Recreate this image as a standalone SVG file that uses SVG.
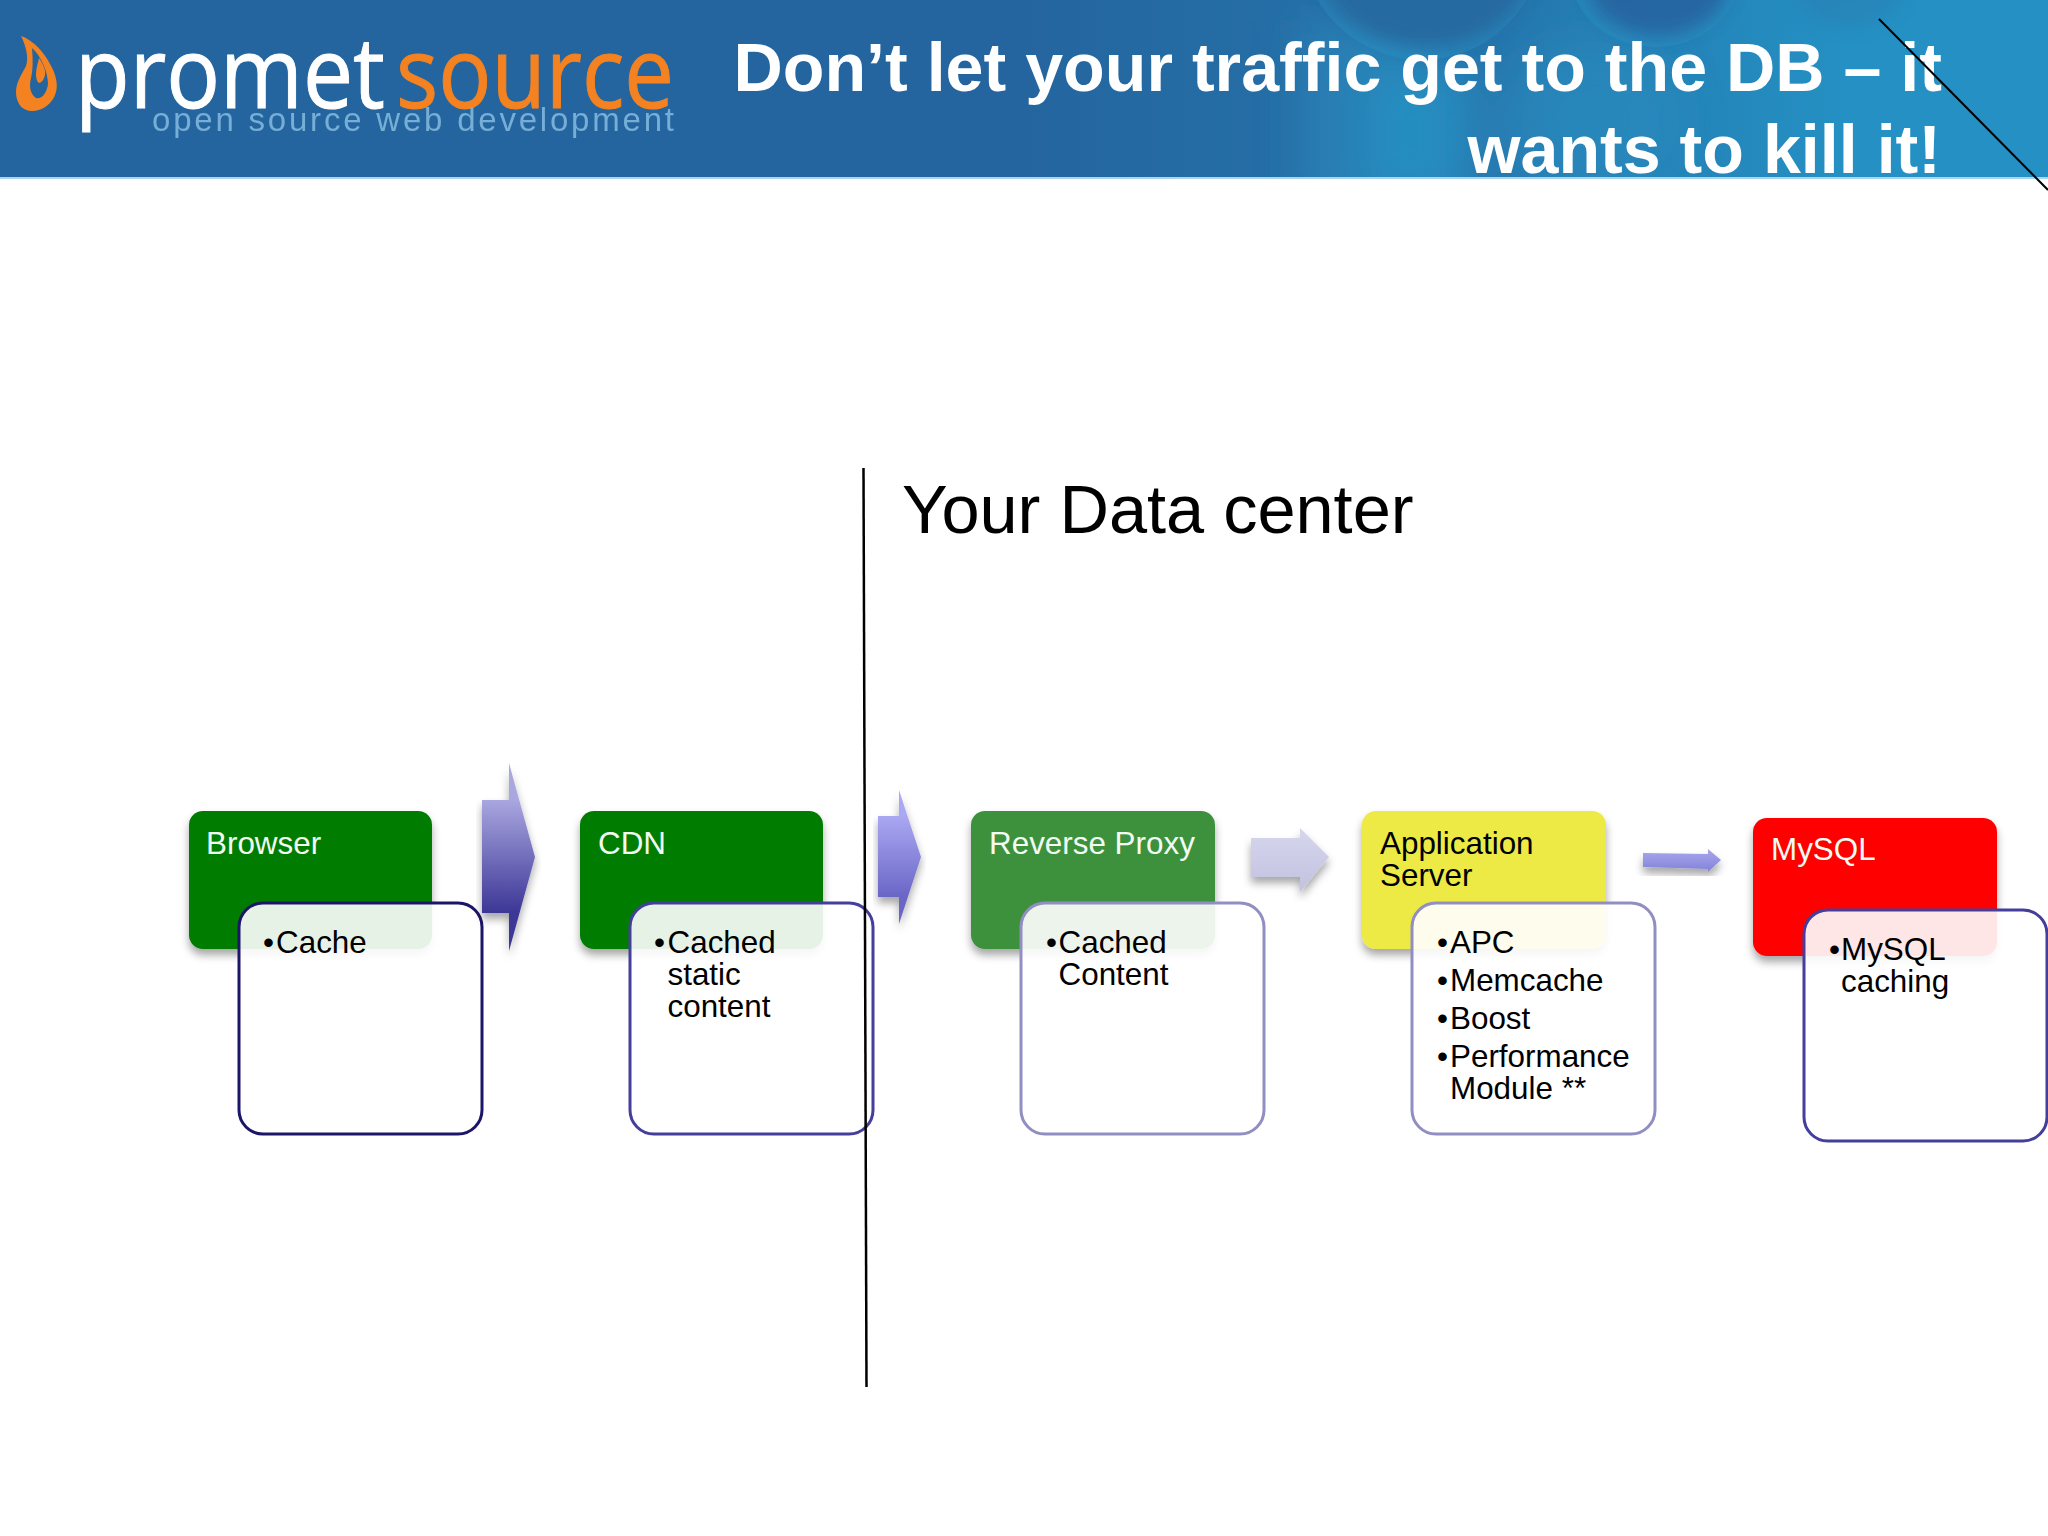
<svg xmlns="http://www.w3.org/2000/svg" width="2048" height="1536" viewBox="0 0 2048 1536">
<style>
text{font-family:"Liberation Sans",Arial,sans-serif}
.h{font-size:31.4px;fill:#f2fbf2}
.b{font-size:31.4px;fill:#000}
.t{font-size:68.2px;font-weight:700;fill:#fff;text-anchor:end}
.logo{font-size:98px;stroke-width:1}
.card{fill:#fff;fill-opacity:.9;stroke-width:3}
</style>
<defs>
<linearGradient id="hdr" x1="0" x2="1" y1="0" y2="0"><stop offset="0" stop-color="#24659f"/><stop offset=".5" stop-color="#24659f"/><stop offset=".72" stop-color="#2675ac"/><stop offset=".9" stop-color="#2490c3"/><stop offset="1" stop-color="#2490c3"/></linearGradient>
<linearGradient id="a1" gradientUnits="userSpaceOnUse" x1="0" x2="0" y1="800" y2="913"><stop offset="0" stop-color="#a9a6e0"/><stop offset="1" stop-color="#3c3796"/></linearGradient>
<linearGradient id="a2" gradientUnits="userSpaceOnUse" x1="0" x2="0" y1="816" y2="897"><stop offset="0" stop-color="#aaa8f2"/><stop offset="1" stop-color="#6a66c6"/></linearGradient>
<linearGradient id="a3" x1="0" x2="0" y1="0" y2="1"><stop offset="0" stop-color="#d6d6ee"/><stop offset="1" stop-color="#c2c2e0"/></linearGradient>
<linearGradient id="a4" x1="0" x2="0" y1="0" y2="1"><stop offset="0" stop-color="#a8a8ee"/><stop offset="1" stop-color="#8282d8"/></linearGradient>
<filter id="sh" x="-10%" y="-10%" width="120%" height="125%"><feDropShadow dx="0" dy="6" stdDeviation="4" flood-color="#000" flood-opacity=".35"/></filter>
<filter id="bl" x="-30%" y="-50%" width="160%" height="200%"><feGaussianBlur stdDeviation="9"/></filter>
<filter id="bl2" x="-50%" y="-50%" width="200%" height="200%"><feGaussianBlur stdDeviation="22"/></filter>
<clipPath id="hc"><rect width="2048" height="177"/></clipPath>
</defs>
<rect width="2048" height="1536" fill="#fff"/>
<g id="header">
<rect width="2048" height="177" fill="url(#hdr)"/>
<rect y="177" width="2048" height="2" fill="#a9d6ee"/>
<g clip-path="url(#hc)">
<g filter="url(#bl2)">
<rect x="1300" y="20" width="120" height="190" fill="#2a92c4" opacity=".45"/>
<rect x="1370" y="70" width="100" height="130" fill="#2592c4" opacity=".8"/>
<ellipse cx="1590" cy="120" rx="90" ry="80" fill="#2a8fc2" opacity=".5"/>
</g>
<circle cx="1422" cy="-60" r="120" fill="#2a96c6" opacity=".4"/>
<ellipse cx="1425" cy="-45" rx="112" ry="92" fill="#27689f" opacity=".9" filter="url(#bl)"/>
<ellipse cx="1655" cy="-25" rx="84" ry="72" fill="#2a96c6" opacity=".4"/>
<ellipse cx="1658" cy="-20" rx="72" ry="56" fill="#27649f" opacity=".9" filter="url(#bl)"/>
<ellipse cx="1848" cy="-20" rx="56" ry="46" fill="#2a7db0" opacity=".5" filter="url(#bl)"/>
</g>
</g>
<g id="logo">
<path fill="#f58220" fill-rule="evenodd" d="M21 36C33 40 44 52 50 64C56 74 58 84 56 92C53 104 42 111 32 111C22 111 16 103 16 92C16 82 22 74 26 66C29 58 26 46 21 36ZM32 48C33 60 33 70 31 78C29 86 30 94 36 98C42 100 47 92 48 84C48 72 41 56 32 48ZM39 58C43 64 46 70 45 75C44 80 41 83 39 83C37 82 36 78 36 74C36 68 38 63 39 58Z"/>
<text class="logo" x="75" y="108" fill="#fff" stroke="#fff" textLength="310" lengthAdjust="spacingAndGlyphs" style="font-family:'Open Sans',sans-serif">promet</text>
<text class="logo" x="396" y="108" fill="#f58220" stroke="#f58220" textLength="278" lengthAdjust="spacingAndGlyphs" style="font-family:'Open Sans',sans-serif">source</text>
<text x="152" y="131" font-size="33" fill="#76aed6" textLength="522" lengthAdjust="spacing">open source web development</text>
</g>
<g id="title">
<text class="t" x="1942" y="91">Don’t let your traffic get to the DB – it</text>
<text class="t" x="1941" y="173">wants to kill it!</text>
</g>
<g id="data-center-label"><text x="902" y="533" font-size="68.500" fill="#000">Your Data center</text></g>

<g id="browser">
<rect x="189" y="811" width="243" height="138" rx="14" fill="#047d04" filter="url(#sh)"/>
<text class="h" x="206" y="854">Browser</text>
<rect class="card" x="239" y="903" width="243" height="231" rx="24" stroke="#1c1668"/>
<text class="b" x="263" y="953">•</text><text class="b" x="276" y="953">Cache</text>
</g>
<g id="cdn">
<rect x="580" y="811" width="243" height="138" rx="14" fill="#047d04" filter="url(#sh)"/>
<text class="h" x="598" y="854">CDN</text>
<rect class="card" x="630" y="903" width="243" height="231" rx="24" stroke="#453f9c"/>
<text class="b" x="654" y="953">•</text><text class="b" x="667.500" y="953">Cached</text><text class="b" x="667.500" y="985">static</text><text class="b" x="667.500" y="1017">content</text>
</g>
<g id="reverse-proxy">
<rect x="971" y="811" width="244" height="138" rx="14" fill="#3e913e" filter="url(#sh)"/>
<text class="h" x="989" y="854">Reverse Proxy</text>
<rect class="card" x="1021" y="903" width="243" height="231" rx="24" stroke="#918ec2"/>
<text class="b" x="1046" y="953">•</text><text class="b" x="1058.500" y="953">Cached</text><text class="b" x="1058.500" y="985">Content</text>
</g>
<g id="application-server">
<rect x="1362" y="811" width="244" height="138" rx="14" fill="#eeea44" filter="url(#sh)"/>
<text class="b" x="1380" y="854">Application</text><text class="b" x="1380" y="886">Server</text>
<rect class="card" x="1412" y="903" width="243" height="231" rx="24" stroke="#918ec2"/>
<text class="b" x="1437" y="953">•</text><text class="b" x="1450" y="953">APC</text>
<text class="b" x="1437" y="991">•</text><text class="b" x="1450" y="991">Memcache</text>
<text class="b" x="1437" y="1029">•</text><text class="b" x="1450" y="1029">Boost</text>
<text class="b" x="1437" y="1067">•</text><text class="b" x="1450" y="1067">Performance</text>
<text class="b" x="1450" y="1099">Module **</text>
</g>
<g id="mysql">
<rect x="1753" y="818" width="244" height="138" rx="14" fill="#ff0000" filter="url(#sh)"/>
<text class="h" x="1771" y="860">MySQL</text>
<rect class="card" x="1804" y="910" width="243" height="231" rx="24" stroke="#453f9c"/>
<text class="b" x="1829" y="960">•</text><text class="b" x="1841" y="960">MySQL</text><text class="b" x="1841" y="992">caching</text>
</g>
<g id="connectors">
<path d="M482 800H509V763L535 857L509 951V913H482Z" fill="url(#a1)" filter="url(#sh)"/>
<path d="M878 816H899V790L921 857L899 924V897H878Z" fill="url(#a2)" filter="url(#sh)"/>
<path d="M1251 838H1300V828L1329 857L1300 892V877H1251Z" fill="url(#a3)" filter="url(#sh)"/>
<path d="M1643 853L1708 854V849L1721 860L1708 872V869L1643 867Z" fill="url(#a4)" filter="url(#sh)"/>
</g>
<g id="lines" fill="none" stroke="#000" stroke-width="2.500">
<path d="M863.500 468L866.500 1387"/>
<path d="M1879 19L2048 190" stroke-width="2"/>
</g>
</svg>
